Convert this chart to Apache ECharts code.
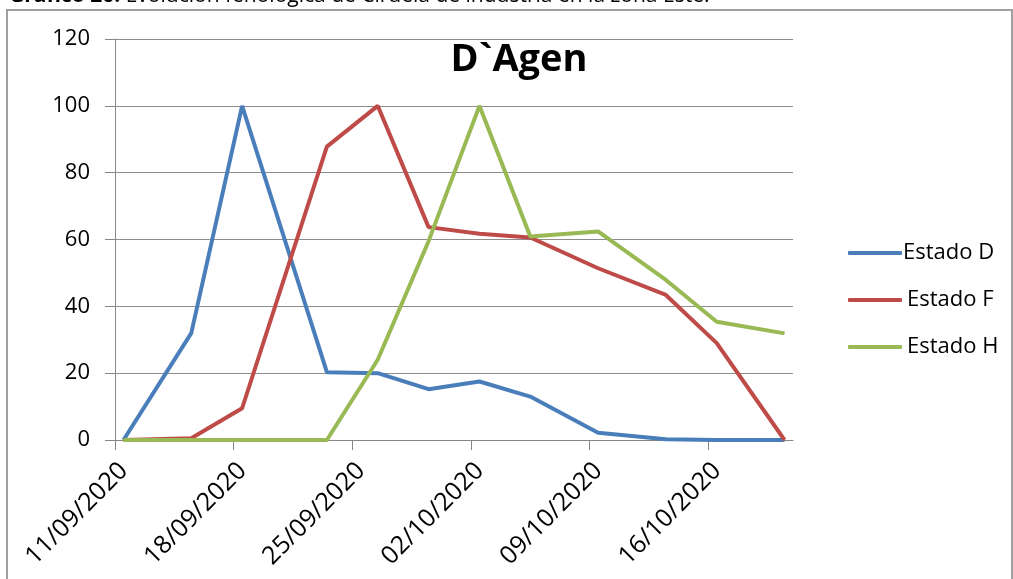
<!DOCTYPE html>
<html>
<head>
<meta charset="utf-8">
<script src="https://cdn.jsdelivr.net/npm/echarts@6/dist/echarts.min.js"></script>
<style>
html,body{margin:0;padding:0;background:#fff;}
#chart{width:1013px;height:579px;}
</style>
</head>
<body>
<div id="chart"></div>
<script>
// ---- data ----
const dates = ['11/09/2020','15/09/2020','18/09/2020','23/09/2020','26/09/2020','29/09/2020','02/10/2020','05/10/2020','09/10/2020','13/10/2020','16/10/2020','20/10/2020'];
const estadoD = [0, 32, 100, 20.3, 20, 15.2, 17.5, 13, 2.2, 0.2, 0, 0];
const estadoF = [0, 0.5, 9.5, 87.8, 100, 63.7, 61.7, 60.6, 51.4, 43.4, 29, 0];
const estadoH = [0, 0, 0, 0, 24, 59.5, 100, 60.9, 62.4, 47.9, 35.4, 31.9];
const seriesNames = ['Estado D', 'Estado F', 'Estado H'];
const xTickLabels = ['11/09/2020','18/09/2020','25/09/2020','02/10/2020','09/10/2020','16/10/2020'];
const axisStart = '11/09/2020';
const axisEnd = '21/10/2020';
const yTicks = [0, 20, 40, 60, 80, 100, 120];
const chartTitle = 'D`Agen';
const captionBold = 'Gráfico 26:';
const captionText = ' Evolución fenológica de Ciruela de industria en la zona Este.';

// ---- helpers ----
function parseDMY(s){ const p = s.split('/'); return Date.UTC(+p[2], +p[1]-1, +p[0]); }
const DAY = 86400000;
const base = parseDMY(axisStart);
function dayIdx(s){ return (parseDMY(s) - base) / DAY; }
function fmt(v){
  const d = new Date(base + Math.round(v) * DAY);
  const dd = String(d.getUTCDate()).padStart(2,'0');
  const mm = String(d.getUTCMonth()+1).padStart(2,'0');
  return dd + '/' + mm + '/' + d.getUTCFullYear();
}
// Excel date axis: each date's point sits in the middle of its day slot
function pairs(vals){ return dates.map((d,i)=>[dayIdx(d) + 0.5, vals[i]]); }

const FONT = '"Open Sans", "Noto Sans", sans-serif';
const colors = ['#4A7EBB', '#BE4B48', '#98B954'];
const tickVals = xTickLabels.map(dayIdx);
const legendPad = [-4, 0, 0];

const chart = echarts.init(document.getElementById('chart'), null, {renderer:'canvas'});
chart.setOption({
  animation: false,
  backgroundColor: '#fff',
  color: colors,
  title: {
    text: chartTitle,
    left: 514, top: 36, textAlign: 'center',
    textStyle: {fontFamily: FONT, fontSize: 38, fontWeight: 'bold', color: '#000'}
  },
  graphic: [
    {type:'rect', shape:{x:7, y:10, width:1005, height:600}, style:{fill:'none', stroke:'#a0a0a0', lineWidth:2}, silent:true},
    {type:'text', x:9, y:-14, style:{
      text:'{b|' + captionBold + '}' + captionText,
      font: '21px ' + FONT, fill:'#000',
      rich:{b:{fontWeight:'bold', fontSize:21, fontFamily:FONT}}
    }}
  ],
  legend: {
    orient: 'vertical',
    left: 843, top: 237,
    itemWidth: 54, itemHeight: 4, itemGap: 25,
    icon: 'roundRect',
    data: seriesNames.map((n,i)=>({name:n, textStyle:{padding:[0,0,0,legendPad[i]]}})),
    textStyle: {fontFamily: FONT, fontSize: 22, color: '#000'}
  },
  grid: {left: 115, right: 220, top: 39, bottom: 139, containLabel: false},
  xAxis: {
    type: 'value',
    min: dayIdx(axisStart), max: dayIdx(axisEnd), interval: 7,
    splitLine: {show:false},
    axisLine: {show:true, lineStyle:{color:'#868686', width:1}},
    axisTick: {show:true, length:10, lineStyle:{color:'#868686'}, customValues: tickVals},
    axisLabel: {
      rotate: 45, margin: 18, verticalAlign: 'top',
      fontFamily: FONT, fontSize: 25, color: '#000',
      customValues: tickVals,
      formatter: fmt
    }
  },
  yAxis: {
    type: 'value',
    min: yTicks[0], max: yTicks[yTicks.length-1], interval: yTicks[1]-yTicks[0],
    axisLine: {show:true, lineStyle:{color:'#868686', width:1}},
    axisTick: {show:true, length:10, lineStyle:{color:'#868686'}},
    splitLine: {show:true, lineStyle:{color:'#8c8c8c', width:1}},
    axisLabel: {margin: 25, fontFamily: FONT, fontSize: 22, color: '#000'}
  },
  series: [
    {name: seriesNames[0], type:'line', data: pairs(estadoD), symbol:'none', lineStyle:{width:4, color:colors[0]}, itemStyle:{color:colors[0]}},
    {name: seriesNames[1], type:'line', data: pairs(estadoF), symbol:'none', lineStyle:{width:4, color:colors[1]}, itemStyle:{color:colors[1]}},
    {name: seriesNames[2], type:'line', data: pairs(estadoH), symbol:'none', lineStyle:{width:4, color:colors[2]}, itemStyle:{color:colors[2]}}
  ]
});
</script>
</body>
</html>
